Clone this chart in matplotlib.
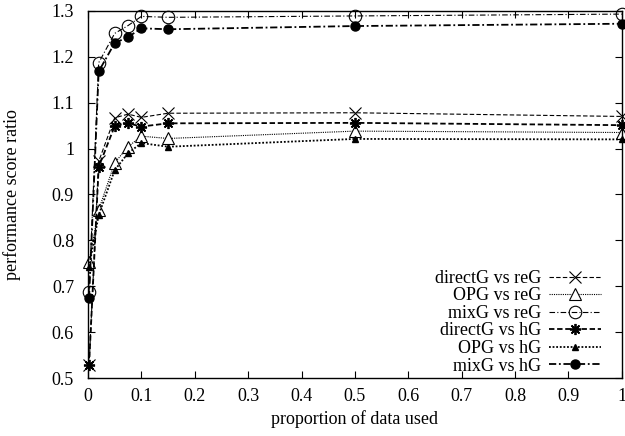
import numpy as np
import matplotlib
matplotlib.use("Agg")
from matplotlib import pyplot as plt
from matplotlib.ticker import FormatStrFormatter

plt.rcParams["font.family"] = ["Liberation Serif", "DejaVu Serif"]
plt.rcParams["font.size"] = 13

# proportion of data used
x = [0.002, 0.02, 0.05, 0.075, 0.1, 0.15, 0.5, 1.0]

direct_re = [0.528, 0.972, 1.067, 1.075, 1.068, 1.077, 1.078, 1.070]
opg_re = [0.753, 0.866, 0.969, 1.004, 1.027, 1.022, 1.038, 1.035]
mix_re = [0.687, 1.187, 1.251, 1.268, 1.288, 1.286, 1.289, 1.293]
direct_h = [0.528, 0.960, 1.049, 1.055, 1.048, 1.055, 1.056, 1.051]
opg_h = [0.742, 0.855, 0.953, 0.990, 1.012, 1.004, 1.021, 1.020]
mix_h = [0.674, 1.168, 1.230, 1.243, 1.262, 1.260, 1.267, 1.272]

labels = ["directG vs reG", "OPG vs reG", "mixG vs reG",
          "directG vs hG", "OPG vs hG", "mixG vs hG"]

fig = plt.figure(figsize=(6.25, 4.36), dpi=100)
ax = fig.add_axes([0.1408, 0.133, 0.854, 0.842])

star = (8, 2, 0)
ax.plot(x, direct_re, color="black", lw=0.8, ls=(0, (4, 2)), marker="x",
        ms=8, mew=0.8, clip_on=False, label=labels[0])
ax.plot(x, opg_re, color="black", lw=0.8, ls=(0, (1, 1)), marker="^",
        ms=8, mew=0.8, mfc="white", clip_on=False, label=labels[1])
ax.plot(x, mix_re, color="black", lw=0.8, ls=(0, (5, 2, 1, 2)), marker="o",
        ms=9, mew=0.8, mfc="none", clip_on=False, label=labels[2])
ax.plot(x, direct_h, color="black", lw=1.3, ls=(0, (3, 1.5)), marker=star,
        ms=8, mew=1.3, clip_on=False, label=labels[3])
ax.plot(x, opg_h, color="black", lw=1.3, ls=(0, (1, 1)), marker="^",
        ms=5, clip_on=False, label=labels[4])
ax.plot(x, mix_h, color="black", lw=1.3, ls=(0, (4, 1.5, 1, 1.5)), marker="o",
        ms=6.5, clip_on=False, label=labels[5])

ax.set_xlim(0, 1)
ax.set_ylim(0.5, 1.3)
ax.set_xticks(np.arange(0, 1.01, 0.1))
ax.set_yticks(np.arange(0.5, 1.31, 0.1))
ax.xaxis.set_major_formatter(FormatStrFormatter("%g"))
ax.yaxis.set_major_formatter(FormatStrFormatter("%g"))
ax.tick_params(direction="in", top=True, right=True, length=5, width=0.8,
               labelsize=13)
ax.tick_params(axis="x", pad=7)
ax.tick_params(axis="y", pad=10)
for s in ax.spines.values():
    s.set_linewidth(1.0)

ax.set_xlabel("proportion of data used", labelpad=4)
ax.set_ylabel("performance score ratio", labelpad=22)

ax.legend(loc="lower right", bbox_to_anchor=(0.985, -0.025), frameon=False,
          markerfirst=False, handlelength=2.9, labelspacing=0.03,
          handletextpad=0.4, borderaxespad=0.3, fontsize=13)

fig.savefig("out.png", dpi=100)
